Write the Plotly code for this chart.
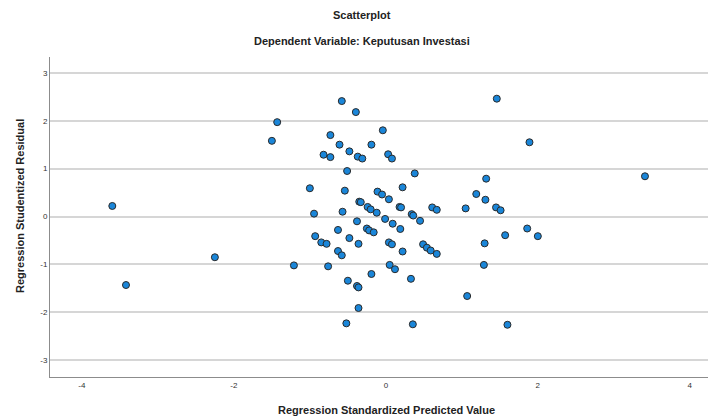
import plotly.graph_objects as go

# Regression Standardized Predicted Value (x) and Studentized Residual (y)
predicted = [
    -3.60, -3.42, -2.25, -1.50, -1.43, -1.00, -1.21, -0.945, -0.93, -0.85,
    -0.78, -0.82, -0.73, -0.73, -0.61, -0.58, -0.395, -0.48, -0.37, -0.31,
    -0.19, -0.04, -0.51, -0.54, -0.57, -0.63, -0.63, -0.58, -0.48, -0.38,
    -0.36, -0.35, -0.33, -0.24, -0.20, -0.12, -0.11, -0.05, 0.04, -0.01,
    0.09, 0.19, -0.25, -0.22, -0.16, 0.03, 0.08, 0.38, 0.22, 0.18,
    0.20, 0.34, 0.36, 0.45, 0.61, 0.67, 1.05, 1.19, 0.04, 0.08,
    0.22, 0.49, 0.54, 0.59, 0.67, -0.76, -0.19, 0.05, 0.12, 0.33,
    -0.50, -0.38, -0.36, -0.36, -0.52, 0.355, 1.07, 1.60, 1.46, 1.89,
    3.41, 1.32, 1.31, 1.45, 1.51, 1.86, 1.57, 2.00, 1.30, 1.29,
]
residual = [
    0.22, -1.43, -0.85, 1.58, 1.97, 0.59, -1.02, 0.06, -0.41, -0.54,
    -0.57, 1.29, 1.24, 1.70, 1.50, 2.41, 2.18, 1.36, 1.25, 1.21,
    1.50, 1.80, 0.95, 0.54, 0.10, -0.28, -0.72, -0.81, -0.45, -0.10,
    -0.57, 0.31, 0.30, 0.20, 0.15, 0.08, 0.52, 0.46, 0.36, -0.05,
    -0.15, -0.26, -0.25, -0.29, -0.33, 1.30, 1.21, 0.90, 0.61, 0.20,
    0.19, 0.05, 0.02, -0.09, 0.19, 0.14, 0.17, 0.47, -0.54, -0.58,
    -0.73, -0.58, -0.65, -0.71, -0.78, -1.04, -1.20, -1.01, -1.10, -1.30,
    -1.34, -1.45, -1.48, -1.91, -2.23, -2.25, -1.66, -2.26, 2.46, 1.55,
    0.84, 0.79, 0.35, 0.19, 0.13, -0.25, -0.39, -0.41, -0.56, -1.01,
]

x_ticks = [-4, -2, 0, 2, 4]
y_ticks = [-3, -2, -1, 0, 1, 2, 3]

FONT = "Arial, Liberation Sans, sans-serif"

# plot area (in figure pixels)
L, R, T, B = 42, 0, 49, 50
W, H = 716, 419
plot_w = W - L - R
plot_h = H - T - B


def px(x):
    # window x (page offset 8) -> paper x
    return (x - 8 - L) / plot_w


def py(y):
    # window y (page offset 8) -> paper y
    return (H - B - (y - 8)) / plot_h


fig = go.Figure(
    go.Scatter(
        x=predicted,
        y=residual,
        mode="markers",
        marker=dict(size=7, color="#1a86d9", line=dict(color="#2a2a2a", width=1)),
        hoverinfo="x+y",
    )
)

fig.update_layout(
    width=W,
    height=H,
    paper_bgcolor="white",
    plot_bgcolor="white",
    margin=dict(l=L, r=R, t=T, b=B),
    showlegend=False,
    font=dict(family=FONT, color="#333333"),
)

title_font = dict(size=11, color="#222222")
fig.add_annotation(text="<b>Scatterplot</b>", x=px(362), y=py(15), xref="paper", yref="paper",
                   showarrow=False, xanchor="center", yanchor="middle", font=title_font)
fig.add_annotation(text="<b>Dependent Variable: Keputusan Investasi</b>", x=px(362), y=py(41),
                   xref="paper", yref="paper", showarrow=False, xanchor="center",
                   yanchor="middle", font=title_font)
fig.add_annotation(text="<b>Regression Standardized Predicted Value</b>", x=px(386), y=py(410),
                   xref="paper", yref="paper", showarrow=False, xanchor="center",
                   yanchor="middle", font=title_font)
fig.add_annotation(text="<b>Regression Studentized Residual</b>", x=px(20), y=py(206),
                   xref="paper", yref="paper", showarrow=False, xanchor="center",
                   yanchor="middle", textangle=-90, font=title_font)

fig.update_xaxes(
    range=[-4.42, 4.45],
    tickvals=x_ticks,
    ticktext=[str(v) for v in x_ticks],
    showgrid=False,
    zeroline=False,
    showline=True,
    linecolor="#8c8c8c",
    linewidth=1,
    ticks="",
    tickfont=dict(size=8, color="#333333"),
)
fig.update_yaxes(
    range=[-3.35, 3.33],
    tickvals=y_ticks,
    ticktext=[str(v) for v in y_ticks],
    showgrid=True,
    gridcolor="#d6d6d6",
    gridwidth=1.5,
    zeroline=False,
    showline=True,
    linecolor="#8c8c8c",
    linewidth=1,
    ticks="",
    tickfont=dict(size=8, color="#333333"),
)

fig.write_html("out.html")
